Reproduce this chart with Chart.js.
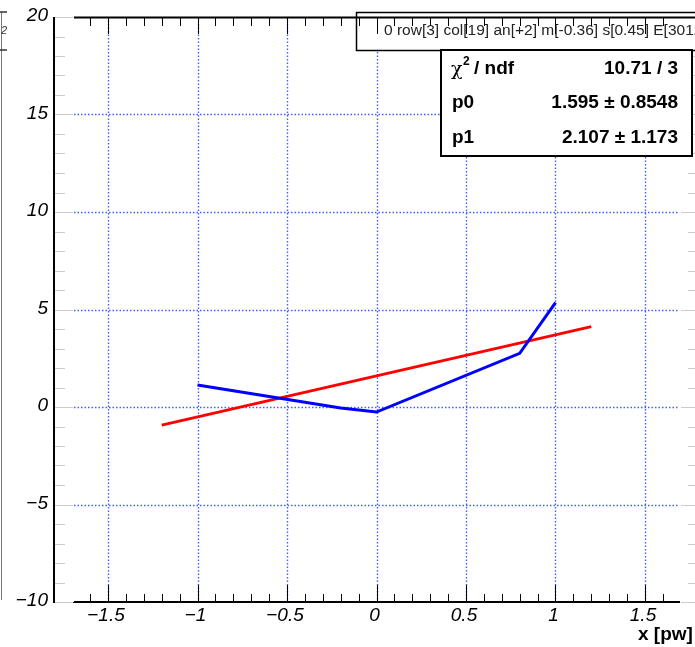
<!DOCTYPE html>
<html>
<head>
<meta charset="utf-8">
<script src="https://cdn.jsdelivr.net/npm/chart.js@4"></script>
<style>
  html, body { margin: 0; padding: 0; background: #fff; }
  #wrap { width: 695px; height: 647px; }
</style>
</head>
<body>
<div id="wrap"><canvas id="c" width="695" height="647"></canvas></div>
<script>
// graph points (blue) and the linear fit (red)
const blueX = [-1, -0.2, 0, 0.8, 1];
const blueY = [1.13, -0.05, -0.26, 2.75, 5.35];
const fitX = [-1.2, 1.2];
const fitY = [-0.93, 4.12];

const xTickValues = [-1.5, -1, -0.5, 0, 0.5, 1, 1.5];
const xTickLabels = ['\u22121.5', '\u22121', '\u22120.5', '0', '0.5', '1', '1.5'];
const yTickValues = [-10, -5, 0, 5, 10, 15, 20];
const yTickLabels = ['\u221210', '\u22125', '0', '5', '10', '15', '20'];

const titleText = '0 row[3] col[19] an[+2] m[-0.36] s[0.45] E[3012]';
const statNames = ['ndf', 'p0', 'p1'];
const statValues = ['10.71 / 3', '1.595 \u00b1 0.8548', '2.107 \u00b1 1.173'];
const xTitle = 'x [pw]';

const toPts = (xs, ys) => xs.map((x, i) => ({x: x, y: ys[i]}));

function dotted(ctx, x1, y1, x2, y2, color) {
  ctx.save();
  ctx.strokeStyle = color;
  ctx.lineWidth = 1.4;
  ctx.setLineDash([1.5, 2]);
  ctx.beginPath(); ctx.moveTo(x1, y1); ctx.lineTo(x2, y2); ctx.stroke();
  ctx.restore();
}

function line(ctx, x1, y1, x2, y2, color, w) {
  ctx.strokeStyle = color;
  ctx.lineWidth = w;
  ctx.beginPath(); ctx.moveTo(x1, y1); ctx.lineTo(x2, y2); ctx.stroke();
}

const rootFrame = {
  id: 'rootFrame',
  beforeDatasetsDraw(chart) {
    const ctx = chart.ctx, a = chart.chartArea;
    const xs = chart.scales.x, ys = chart.scales.y;
    ctx.save();
    // grid
    xTickValues.forEach(v => {
      const px = Math.round(xs.getPixelForValue(v)) + 0.5;
      dotted(ctx, px, a.top, px, a.bottom, '#3f5fff');
    });
    yTickValues.forEach(v => {
      if (v === -10 || v === 20) return;
      const py = Math.round(ys.getPixelForValue(v)) + 0.5;
      dotted(ctx, a.left, py, a.right, py, '#3f5fff');
    });
    ctx.restore();
  },
  afterDatasetsDraw(chart) {
    const ctx = chart.ctx, a = chart.chartArea;
    const xs = chart.scales.x, ys = chart.scales.y;
    ctx.save();

    // neighbouring pad edge on the far left
    line(ctx, 1.5, 12, 1.5, 600, '#777', 1);
    line(ctx, 0, 12, 7, 12, '#333', 1.5);
    line(ctx, 0, 50, 7, 50, '#333', 1.5);
    ctx.fillStyle = '#333';
    ctx.font = 'italic 11px "Liberation Sans"';
    ctx.textAlign = 'left'; ctx.textBaseline = 'middle';
    ctx.fillText('2', 1, 31);

    // left frame line with grey ticks
    line(ctx, 54, a.top, 54, a.bottom + 1, '#000', 2);
    line(ctx, 54, a.bottom + 0.5, a.left, a.bottom + 0.5, '#000', 1);
    for (let v = -10; v <= 20; v++) {
      const py = Math.round(ys.getPixelForValue(v)) + 0.5;
      const major = v % 5 === 0;
      line(ctx, 55, py, major ? 73 : 65, py, '#cccccc', 1);
      line(ctx, 695, py, major ? 681 : 688, py, '#cccccc', 1);
    }

    // title box
    ctx.fillStyle = '#fff';
    ctx.fillRect(356, 12, 345, 38);
    ctx.strokeStyle = '#000'; ctx.lineWidth = 1.5;
    ctx.strokeRect(356.5, 12.5, 345, 38);
    ctx.fillStyle = '#222';
    ctx.font = '15.5px "Liberation Sans"';
    ctx.textAlign = 'left'; ctx.textBaseline = 'middle';
    ctx.fillText(titleText, 384, 31);

    // top and bottom axes
    line(ctx, a.left, a.top + 0.5, 695, a.top + 0.5, '#000', 2);
    line(ctx, a.left, a.bottom, a.right + 1, a.bottom, '#000', 2);
    for (let i = -17; i <= 17; i++) {
      const v = i / 10;
      const px = Math.round(xs.getPixelForValue(v)) + 0.5;
      if (px < a.left - 1 || px > a.right + 1) continue;
      const major = i % 5 === 0;
      line(ctx, px, a.top, px, a.top + (major ? 17 : 9), '#000', 1);
      line(ctx, px, a.bottom, px, a.bottom - (major ? 17 : 8), '#000', 1);
    }

    // tick labels
    ctx.fillStyle = '#000';
    ctx.font = 'italic 19px "Liberation Sans"';
    ctx.textAlign = 'right'; ctx.textBaseline = 'middle';
    yTickValues.forEach((v, i) => {
      ctx.fillText(yTickLabels[i], 48, ys.getPixelForValue(v) - 1);
    });
    ctx.textAlign = 'center';
    xTickValues.forEach((v, i) => {
      ctx.fillText(xTickLabels[i], xs.getPixelForValue(v) - 2, 616);
    });

    // axis title
    ctx.font = 'bold 19px "Liberation Sans"';
    ctx.textAlign = 'left';
    ctx.fillText(xTitle, 638, 635);

    // fit statistics box
    ctx.fillStyle = '#fff';
    ctx.fillRect(441, 50, 251, 106);
    ctx.strokeStyle = '#000'; ctx.lineWidth = 2;
    ctx.strokeRect(441, 50, 251, 106);
    ctx.fillStyle = '#000';
    const rows = [69, 103, 138];
    ctx.textAlign = 'left';
    // chi2 / ndf label
    ctx.font = '19px "DejaVu Serif"';
    ctx.fillText('\u03c7', 451, rows[0] + 1);
    ctx.font = 'bold 12px "Liberation Sans"';
    ctx.fillText('2', 463, rows[0] - 7);
    ctx.font = 'bold 19px "Liberation Sans"';
    ctx.fillText('/ ' + statNames[0], 474, rows[0]);
    ctx.fillText(statNames[1], 452, rows[1]);
    ctx.fillText(statNames[2], 452, rows[2]);
    ctx.textAlign = 'right';
    statValues.forEach((s, i) => ctx.fillText(s, 678, rows[i]));

    ctx.restore();
  }
};

new Chart(document.getElementById('c'), {
  type: 'scatter',
  data: {
    datasets: [
      {
        data: toPts(blueX, blueY),
        showLine: true, borderColor: '#0000ff', borderWidth: 3,
        pointRadius: 0, tension: 0, fill: false
      },
      {
        data: toPts(fitX, fitY),
        showLine: true, borderColor: '#ff0000', borderWidth: 3,
        pointRadius: 0, tension: 0, fill: false
      }
    ]
  },
  options: {
    responsive: false,
    animation: false,
    events: [],
    layout: { padding: { left: 74, right: 16, top: 17, bottom: 45 } },
    plugins: { legend: { display: false }, tooltip: { enabled: false } },
    scales: {
      x: { type: 'linear', display: false, min: -1.69, max: 1.69 },
      y: { type: 'linear', display: false, min: -10, max: 20 }
    }
  },
  plugins: [rootFrame]
});
</script>
</body>
</html>
